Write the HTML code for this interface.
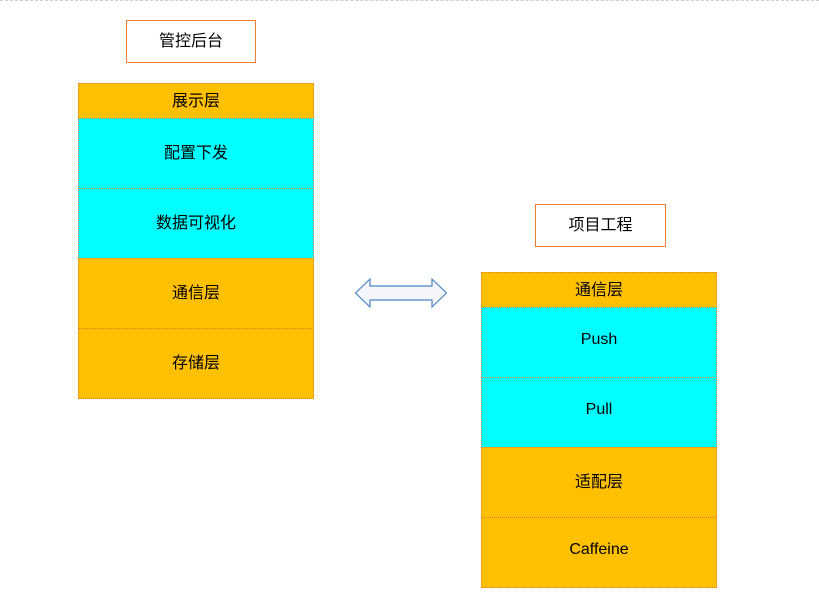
<!DOCTYPE html>
<html><head><meta charset="utf-8"><style>
body{margin:0;width:819px;height:614px;background:#fff;position:relative;overflow:hidden;font-family:"Liberation Sans","Noto Sans CJK SC",sans-serif;font-size:16px;color:#000}
.b{position:absolute;box-sizing:border-box;display:flex;align-items:center;justify-content:center;padding-bottom:5px}
.t{border:1px solid #ed7d31;background:#fff}
.o{background:#ffc000;border:1px dotted #ed7d31}
.c{background:#00ffff;border:1px dotted #ed7d31}
</style></head><body>
<div style="position:absolute;left:0;top:0;width:819px;border-top:1px dashed #ccc"></div>
<div class="b t" style="left:126px;top:20px;width:130px;height:43px">管控后台</div>
<div class="b o" style="left:78px;top:83px;width:236px;height:36px">展示层</div>
<div class="b c" style="left:78px;top:118px;width:236px;height:71px">配置下发</div>
<div class="b c" style="left:78px;top:188px;width:236px;height:71px">数据可视化</div>
<div class="b o" style="left:78px;top:258px;width:236px;height:71px">通信层</div>
<div class="b o" style="left:78px;top:328px;width:236px;height:71px">存储层</div>
<div class="b t" style="left:535px;top:204px;width:131px;height:43px">项目工程</div>
<div class="b o" style="left:481px;top:272px;width:236px;height:36px">通信层</div>
<div class="b c" style="left:481px;top:307px;width:236px;height:71px">Push</div>
<div class="b c" style="left:481px;top:377px;width:236px;height:71px">Pull</div>
<div class="b o" style="left:481px;top:447px;width:236px;height:71px">适配层</div>
<div class="b o" style="left:481px;top:517px;width:236px;height:71px">Caffeine</div>
<svg style="position:absolute;left:0;top:0" width="819" height="614">
<polygon points="355.5,293 370,279 370,286 432,286 432,279 446.5,293 432,307 432,300 370,300 370,307" fill="#f4f6fb" stroke="#4a86c5" stroke-width="1.2"/>
</svg>
</body></html>
